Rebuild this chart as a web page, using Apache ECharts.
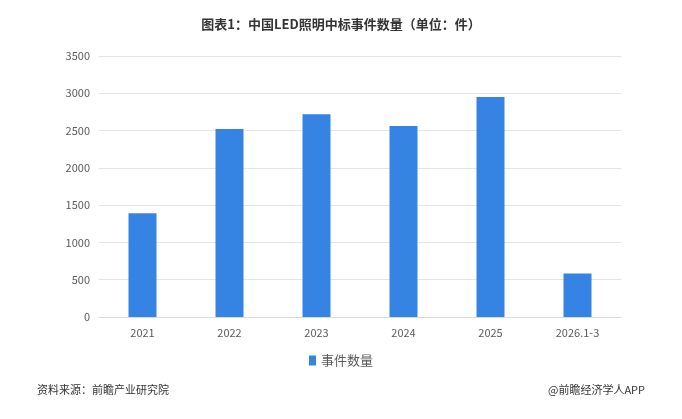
<!DOCTYPE html>
<html>
<head>
<meta charset="utf-8">
<script src="https://cdn.jsdelivr.net/npm/echarts@6/dist/echarts.min.js"></script>
<style>
html, body { margin: 0; padding: 0; background: #fff; }
#main { width: 682px; height: 419px; }
</style>
</head>
<body>
<div id="main"></div>
<script>
// 数据
var categories = ['2021', '2022', '2023', '2024', '2025', '2026.1-3'];
var eventCounts = [1390, 2520, 2720, 2560, 2950, 585];
var seriesName = '事件数量';

var myChart = echarts.init(document.getElementById('main'));
var font = '"Noto Sans CJK SC", "Noto Sans", sans-serif';

var option = {
  backgroundColor: '#fff',
  animation: false,
  textStyle: { fontFamily: font },
  title: {
    text: '图表1：中国LED照明中标事件数量（单位：件）',
    left: 'center',
    top: 13,
    textStyle: { fontSize: 13, fontWeight: 'bold', color: '#333', fontFamily: font }
  },
  legend: {
    data: [seriesName],
    left: 'center',
    top: 349,
    icon: 'rect',
    itemWidth: 7,
    itemHeight: 10,
    itemGap: 4,
    textStyle: { fontSize: 13, color: '#595959', fontFamily: font }
  },
  grid: {
    left: 99,
    right: 61,
    top: 56,
    bottom: 102
  },
  xAxis: {
    type: 'category',
    data: categories,
    axisLine: { show: true, lineStyle: { color: '#d9d9d9' } },
    axisTick: { show: false },
    axisLabel: { color: '#595959', fontSize: 11, margin: 10 }
  },
  yAxis: {
    type: 'value',
    min: 0,
    max: 3500,
    interval: 500,
    axisLine: { show: false },
    axisTick: { show: false },
    axisLabel: {
      color: '#595959', fontSize: 11, margin: 9,
      formatter: function (v) { return String(v); }
    },
    splitLine: { lineStyle: { color: '#e3e3e3', width: 1 } }
  },
  series: [{
    name: seriesName,
    type: 'bar',
    data: eventCounts,
    barWidth: 28,
    itemStyle: { color: '#3584e4' }
  }],
  graphic: [
    {
      type: 'text', left: 37, top: 384,
      style: { text: '资料来源：前瞻产业研究院', fontSize: 11, fill: '#333', fontFamily: font }
    },
    {
      type: 'text', right: 37, top: 384,
      style: { text: '@前瞻经济学人APP', fontSize: 11, fill: '#333', fontFamily: font }
    }
  ]
};
myChart.setOption(option);
</script>
</body>
</html>
